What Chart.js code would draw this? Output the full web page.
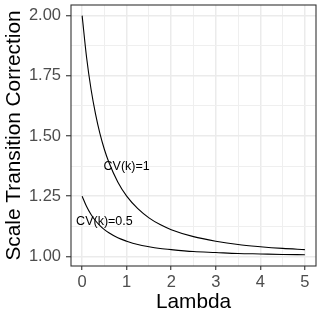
<!DOCTYPE html>
<html>
<head>
<meta charset="utf-8">
<script src="https://cdn.jsdelivr.net/npm/chart.js@4"></script>
<style>
  html, body { margin: 0; padding: 0; background: #ffffff; }
  #wrap { width: 320px; height: 316px; }
</style>
</head>
<body>
<div id="wrap"><canvas id="myChart" width="320" height="316"></canvas></div>
<script>
// Valores
const lambda = [0, 0.1, 0.2, 0.3, 0.4, 0.5, 0.6, 0.8, 1.0, 1.25, 1.5, 1.75, 2, 2.5, 3, 3.5, 4, 4.5, 5];
const cvUm = [2.000, 1.826, 1.694, 1.592, 1.510, 1.444, 1.391, 1.309, 1.250, 1.198, 1.160, 1.132, 1.111, 1.082, 1.063, 1.049, 1.040, 1.033, 1.028];
const cvMeio = [1.250, 1.207, 1.174, 1.148, 1.128, 1.111, 1.098, 1.077, 1.063, 1.049, 1.040, 1.033, 1.028, 1.020, 1.016, 1.012, 1.010, 1.008, 1.007];

// Rótulos dentro do painel
const rotulos = ["CV(k)=1", "CV(k)=0.5"];
const rotuloX = [1.0, 0.5];
const rotuloY = [1.373, 1.145];

// Ticks (maiores e menores, como no ggplot)
const xTicks = [0, 0.5, 1, 1.5, 2, 2.5, 3, 3.5, 4, 4.5, 5];
const xMaiores = [0, 1, 2, 3, 4, 5];
const yTicks = [1.0, 1.125, 1.25, 1.375, 1.5, 1.625, 1.75, 1.875, 2.0];
const yMaiores = [1.0, 1.25, 1.5, 1.75, 2.0];

const fonte = '"Liberation Sans", Arial, sans-serif';

function ehMaior(lista, v) {
    return lista.some(m => Math.abs(m - v) < 1e-9);
}

// Moldura do painel + textos
const painel = {
    id: 'painel',
    afterDatasetsDraw(chart) {
        const ctx = chart.ctx;
        const a = chart.chartArea;
        const x = chart.scales.x;
        const y = chart.scales.y;
        ctx.save();
        ctx.font = '12.5px ' + fonte;
        ctx.fillStyle = '#000000';
        ctx.textAlign = 'center';
        ctx.textBaseline = 'middle';
        rotulos.forEach((t, i) => {
            ctx.fillText(t, x.getPixelForValue(rotuloX[i]), y.getPixelForValue(rotuloY[i]));
        });
        ctx.strokeStyle = '#333333';
        ctx.lineWidth = 1.1;
        ctx.strokeRect(a.left, a.top, a.right - a.left, a.bottom - a.top);
        ctx.restore();
    }
};

const pontos = (vals) => lambda.map((l, i) => ({ x: l, y: vals[i] }));

const ctx = document.getElementById('myChart');

new Chart(ctx, {
    type: 'line',
    data: {
        datasets: [
            { data: pontos(cvUm), borderColor: '#000000', borderWidth: 1.1, pointRadius: 0, cubicInterpolationMode: 'monotone' },
            { data: pontos(cvMeio), borderColor: '#000000', borderWidth: 1.1, pointRadius: 0, cubicInterpolationMode: 'monotone' }
        ]
    },
    options: {
        responsive: false,
        animation: false,
        events: [],
        layout: {
            padding: { left: 0, right: 4, top: 5, bottom: 0 }
        },
        plugins: {
            legend: { display: false },
            tooltip: { enabled: false }
        },
        scales: {
            x: {
                type: 'linear',
                min: -0.25,
                max: 5.25,
                afterBuildTicks: (scale) => { scale.ticks = xTicks.map(v => ({ value: v })); },
                afterFit: (scale) => { scale.height = 50; },
                border: { display: false },
                grid: {
                    color: (c) => ehMaior(xMaiores, c.tick.value) ? '#ebebeb' : '#efefef',
                    lineWidth: (c) => ehMaior(xMaiores, c.tick.value) ? 1.5 : 1,
                    tickColor: (c) => ehMaior(xMaiores, c.tick.value) ? '#333333' : 'rgba(0,0,0,0)',
                    tickWidth: 1.1,
                    tickLength: 4
                },
                ticks: {
                    autoSkip: false,
                    maxRotation: 0,
                    padding: 3,
                    color: '#4d4d4d',
                    font: { family: fonte, size: 16.5 },
                    callback: (v) => ehMaior(xMaiores, v) ? String(v) : ''
                },
                title: {
                    display: true,
                    text: 'Lambda',
                    color: '#000000',
                    font: { family: fonte, size: 20.8 },
                    padding: { top: 0, bottom: 1 }
                }
            },
            y: {
                type: 'linear',
                min: 0.96,
                max: 2.044,
                afterBuildTicks: (scale) => { scale.ticks = yTicks.map(v => ({ value: v })); },
                afterFit: (scale) => { scale.width = 71; scale.paddingTop = 0; scale.paddingBottom = 0; },
                border: { display: false },
                grid: {
                    color: (c) => ehMaior(yMaiores, c.tick.value) ? '#ebebeb' : '#efefef',
                    lineWidth: (c) => ehMaior(yMaiores, c.tick.value) ? 1.5 : 1,
                    tickColor: (c) => ehMaior(yMaiores, c.tick.value) ? '#333333' : 'rgba(0,0,0,0)',
                    tickWidth: 1.1,
                    tickLength: 5
                },
                ticks: {
                    autoSkip: false,
                    padding: 5,
                    color: '#4d4d4d',
                    font: { family: fonte, size: 16.5 },
                    callback: (v) => ehMaior(yMaiores, v) ? Number(v).toFixed(2) : ''
                },
                title: {
                    display: true,
                    text: 'Scale Transition Correction',
                    color: '#000000',
                    font: { family: fonte, size: 20.8 },
                    padding: { top: 2, bottom: 0 }
                }
            }
        }
    },
    plugins: [painel]
});
</script>
</body>
</html>
